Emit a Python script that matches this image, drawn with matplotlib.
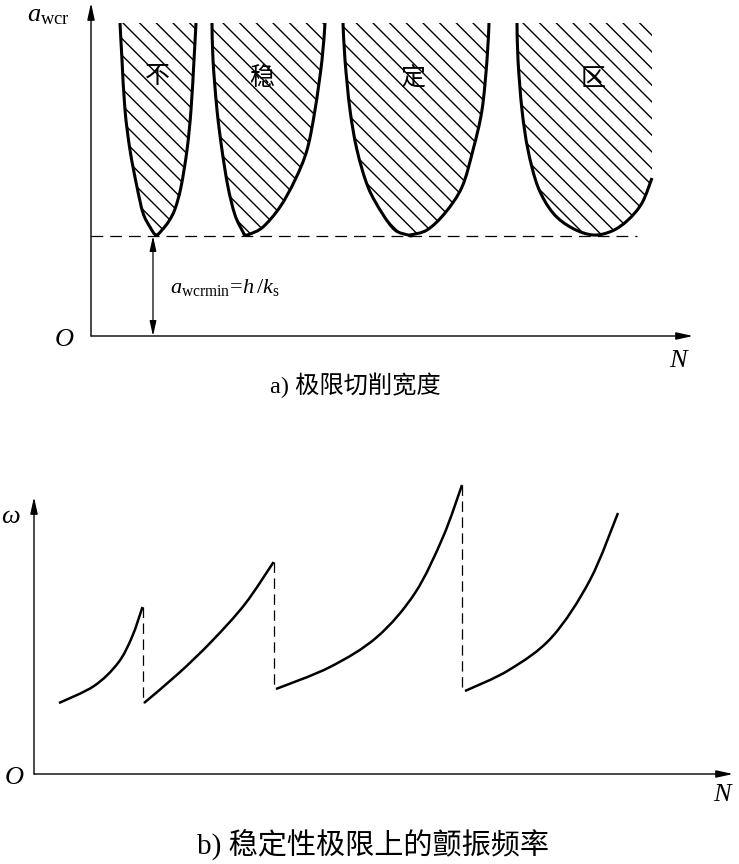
import matplotlib
matplotlib.use("Agg")
import matplotlib.pyplot as plt
from matplotlib.path import Path
from matplotlib.patches import PathPatch

plt.rcParams['font.family'] = ['Liberation Serif', 'Noto Sans CJK SC']
plt.rcParams['mathtext.fontset'] = 'custom'
plt.rcParams['mathtext.rm'] = 'Liberation Serif'
plt.rcParams['mathtext.it'] = 'Liberation Serif:italic'
plt.rcParams['hatch.linewidth'] = 1.0
plt.rcParams['lines.scale_dashes'] = False

# a) unstable lobes: boundary points (N, a_wcr), left branch top -> bottom -> right branch
lobe_N = [
    [29, 31, 34, 39, 46, 52, 59, 65, 71, 78, 84, 90, 96, 100, 103, 105],
    [121, 122, 126, 131, 137, 144, 152, 154, 159, 172, 189, 204, 216, 224, 231, 234],
    [252, 254, 259, 266, 277, 291, 304, 317, 319, 336, 354, 371, 382, 391, 396, 398],
    [426, 427, 431, 437, 447, 462, 481, 502, 521, 537, 551, 561],
]
lobe_a = [
    [313, 276, 226, 186, 149, 123, 109, 101, 106, 115, 127, 149, 186, 226, 276, 313],
    [313, 276, 226, 186, 149, 121, 104, 101, 102, 109, 129, 156, 186, 226, 276, 313],
    [313, 276, 226, 186, 149, 123, 106, 101, 101, 106, 123, 149, 186, 226, 276, 313],
    [313, 276, 226, 186, 149, 123, 108, 101, 105, 116, 133, 158],
]
a_top = 313
a_min = 100
lobe_words = ['不', '稳', '定', '区']
word_N = [66, 171, 322, 502]
word_a = [260, 258, 258, 257]

# b) chatter frequency on the stability limit
seg_N = [
    [25, 60, 84, 98, 108.5],
    [110, 145, 178, 211, 239.6],
    [242, 296, 343, 381, 409, 428],
    [431, 475, 518, 556, 584],
]
seg_w = [
    [71, 88, 111, 137, 167],
    [71, 101, 133, 170, 212],
    [85, 107, 137, 181, 237, 289],
    [83, 104, 137, 194, 261],
]


def smooth_path(xs, ys, extra=None, close=False):
    # smooth bezier path through the read points (catmull-rom handles)
    pts = list(zip(xs, ys))
    verts = [pts[0]]
    codes = [Path.MOVETO]
    n = len(pts)
    for i in range(n - 1):
        p0 = pts[max(i - 1, 0)]
        p1 = pts[i]
        p2 = pts[i + 1]
        p3 = pts[min(i + 2, n - 1)]
        c1 = (p1[0] + (p2[0] - p0[0]) / 6, p1[1] + (p2[1] - p0[1]) / 6)
        c2 = (p2[0] - (p3[0] - p1[0]) / 6, p2[1] - (p3[1] - p1[1]) / 6)
        verts += [c1, c2, p2]
        codes += [Path.CURVE4] * 3
    if extra:
        for p in extra:
            verts.append(p)
            codes.append(Path.LINETO)
    if close:
        verts.append(pts[0])
        codes.append(Path.CLOSEPOLY)
    return Path(verts, codes)


fig = plt.figure(figsize=(7.39, 8.64), dpi=100)

arrow = dict(arrowstyle='-|>,head_length=1.0,head_width=0.22', lw=1.0,
             color='black', mutation_scale=10, shrinkA=0, shrinkB=0)
serif_it = dict(family='Liberation Serif', style='italic')

# ---------- a) ----------
ax1 = fig.add_axes([0, 0.5, 1, 0.5])
ax1.set_xlim(-91, 648)
ax1.set_ylim(-96, 336)
ax1.axis('off')

ax1.annotate('', xy=(0, 333), xytext=(0, 0), arrowprops=arrow)
ax1.annotate('', xy=(602, 0), xytext=(0, 0), arrowprops=arrow)

for i in range(len(lobe_N)):
    xs = lobe_N[i]
    ys = lobe_a[i]
    extra = [(xs[-1], a_top)] if i == len(lobe_N) - 1 else None
    fill_path = smooth_path(xs, ys, extra=extra, close=True)
    ax1.add_patch(PathPatch(fill_path, facecolor='none', edgecolor='black',
                            hatch='\\\\', lw=0))
    ax1.add_patch(PathPatch(smooth_path(xs, ys), facecolor='none',
                            edgecolor='black', lw=2.2, capstyle='butt'))
    ax1.text(word_N[i], word_a[i], lobe_words[i], ha='center', va='center',
             fontsize=18, family='Noto Sans CJK SC')

ax1.plot([0, 546], [a_min, a_min], color='black', lw=0.9, dashes=(8.5, 5))

ax1.annotate('', xy=(62, a_min), xytext=(62, 0),
             arrowprops=dict(arrowstyle='<|-|>,head_length=0.9,head_width=0.2', lw=0.9,
                             color='black', mutation_scale=10, shrinkA=0, shrinkB=0))
ax1.text(79, 49, r'$a_{\rm wcrmin}\!=\!h\,/k_{\rm s}$', ha='left', va='center', fontsize=16)
ax1.text(-64, 320, r'$a_{\rm wcr}$', ha='left', va='center', fontsize=19)
ax1.text(-27, -4, 'O', ha='center', va='center', fontsize=19, **serif_it)
ax1.text(587, -25, 'N', ha='center', va='center', fontsize=19, **serif_it)
ax1.text(264, -49, 'a) 极限切削宽度', ha='center', va='center', fontsize=17.5)

# ---------- b) ----------
ax2 = fig.add_axes([0, 0, 1, 0.5])
ax2.set_xlim(-34, 705)
ax2.set_ylim(-90, 342)
ax2.axis('off')

ax2.annotate('', xy=(0, 277), xytext=(0, 0), arrowprops=arrow)
ax2.annotate('', xy=(699, 0), xytext=(0, 0), arrowprops=arrow)

for i in range(len(seg_N)):
    ax2.add_patch(PathPatch(smooth_path(seg_N[i], seg_w[i]), facecolor='none',
                            edgecolor='black', lw=1.8))
    if i < len(seg_N) - 1:
        ax2.plot([seg_N[i][-1], seg_N[i][-1]], [seg_w[i][-1], seg_w[i + 1][0]],
                 color='black', lw=0.9, dashes=(7.5, 4))

ax2.text(-24, 257, 'ω', ha='center', va='center', fontsize=19, **serif_it)
ax2.text(-20, -4, 'O', ha='center', va='center', fontsize=19, **serif_it)
ax2.text(688, -21, 'N', ha='center', va='center', fontsize=19, **serif_it)
ax2.text(339, -71, 'b) 稳定性极限上的颤振频率', ha='center', va='center', fontsize=21)

fig.savefig('out.png', dpi=100)
